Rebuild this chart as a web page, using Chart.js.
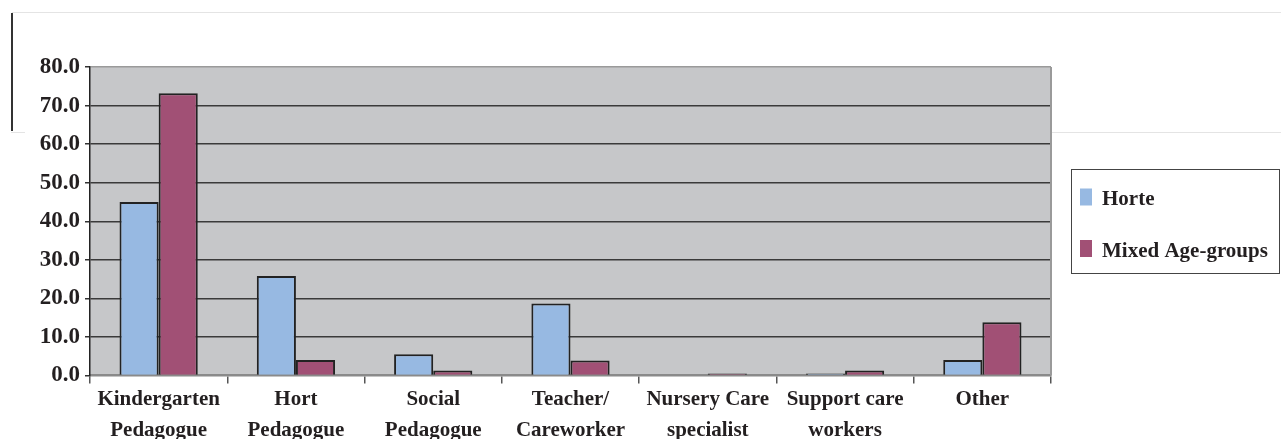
<!DOCTYPE html>
<html>
<head>
<meta charset="utf-8">
<script src="https://cdn.jsdelivr.net/npm/chart.js@4/dist/chart.umd.min.js"></script>
<style>
  html, body { margin: 0; padding: 0; background: #fff; }
  #wrap { position: relative; width: 1281px; height: 439px; overflow: hidden; }
  canvas { position: absolute; left: 0; top: 0; }
  .rule { position: absolute; }
</style>
</head>
<body>
<div id="wrap">
  <canvas id="chart" width="1281" height="439"></canvas>
  <div class="rule" style="left:12px; top:12px; width:1269px; height:1px; background:#e4e4e4;"></div>
  <div class="rule" style="left:11px; top:13px; width:2px; height:118px; background:#333;"></div>
  <div class="rule" style="left:11px; top:132px; width:14px; height:1px; background:#e4e4e4;"></div>
  <div class="rule" style="left:1052px; top:132px; width:229px; height:1px; background:#e4e4e4;"></div>
</div>
<script>
// Staff qualification shares (%) per group type
const categories = [
  ["Kindergarten", "Pedagogue"],
  ["Hort", "Pedagogue"],
  ["Social", "Pedagogue"],
  ["Teacher/", "Careworker"],
  ["Nursery Care", "specialist"],
  ["Support care", "workers"],
  ["Other"]
];
const seriesNames = ["Horte", "Mixed Age-groups"];
const horteValues = [45.0, 25.8, 5.5, 18.7, 0.0, 0.5, 4.0];
const mixedValues = [73.2, 4.0, 1.3, 3.9, 0.5, 1.3, 13.8];
const yTicks = [0, 10, 20, 30, 40, 50, 60, 70, 80];

const FONT = "'Liberation Serif', 'Times New Roman', serif";
const TEXT = "#231f20";

// Grey plot background and right frame edge
const plotFrame = {
  id: "plotFrame",
  beforeDraw(chart) {
    const { ctx, chartArea: a } = chart;
    ctx.save();
    ctx.fillStyle = "#c6c7c9";
    ctx.fillRect(a.left, a.top, a.right - a.left, a.bottom - a.top);
    ctx.restore();
  },
  afterDraw(chart) {
    const { ctx, chartArea: a } = chart;
    ctx.save();
    ctx.strokeStyle = "#9a9a9a";
    ctx.lineWidth = 2;
    ctx.beginPath();
    ctx.moveTo(a.right, a.top);
    ctx.lineTo(a.right, a.bottom);
    ctx.stroke();
    ctx.restore();
  }
};

// Boxed legend to the right of the plot
const boxLegend = {
  id: "boxLegend",
  afterDraw(chart) {
    const { ctx } = chart;
    const x = 1071.5, y = 169.5, w = 208, h = 104;
    ctx.save();
    ctx.strokeStyle = "#444";
    ctx.lineWidth = 1;
    ctx.strokeRect(x, y, w, h);
    ctx.font = "bold 21px " + FONT;
    ctx.textBaseline = "alphabetic";
    const rows = [205, 256.5];
    chart.data.datasets.forEach((ds, i) => {
      const base = rows[i];
      ctx.fillStyle = ds.backgroundColor;
      ctx.fillRect(1080, base - 16.5, 12, 17);
      ctx.fillStyle = TEXT;
      ctx.fillText(ds.label, 1102, base);
    });
    ctx.restore();
  }
};

new Chart(document.getElementById("chart"), {
  type: "bar",
  data: {
    labels: categories,
    datasets: [
      {
        label: seriesNames[0],
        data: horteValues,
        backgroundColor: "#97b9e2",
        borderColor: "#222",
        borderWidth: 2,
        categoryPercentage: 0.57,
        barPercentage: 1.0
      },
      {
        label: seriesNames[1],
        data: mixedValues,
        backgroundColor: "#a15075",
        borderColor: "#222",
        borderWidth: 2,
        categoryPercentage: 0.57,
        barPercentage: 1.0
      }
    ]
  },
  options: {
    responsive: false,
    animation: false,
    devicePixelRatio: 1,
    layout: { padding: { top: 67, right: 230, left: 0, bottom: 0 } },
    plugins: {
      legend: { display: false },
      tooltip: { enabled: false }
    },
    scales: {
      x: {
        afterFit(scale) { scale.height = 63.5; },
        grid: {
          drawOnChartArea: false,
          drawTicks: true,
          tickLength: 8,
          color: "#555",
          lineWidth: 1.5,
          offset: true
        },
        border: { color: "#8a8a8a", width: 2.5 },
        ticks: {
          color: TEXT,
          padding: 1,
          maxRotation: 0,
          autoSkip: false,
          font: { family: FONT, size: 21, weight: "bold", lineHeight: 1.45 }
        }
      },
      y: {
        min: 0,
        max: 80,
        afterFit(scale) { scale.width = 90; },
        afterBuildTicks(scale) { scale.ticks = yTicks.map(v => ({ value: v })); },
        grid: {
          drawTicks: true,
          tickLength: 5,
          lineWidth: 1.5,
          color(ctx) {
            const v = ctx.tick && ctx.tick.value;
            if (v === 80) return "#9a9a9a";
            if (v === 0) return "rgba(0,0,0,0)";
            return "#3a3a3a";
          },
          tickColor: "#333"
        },
        border: { color: "#222", width: 1.5 },
        ticks: {
          color: TEXT,
          padding: 5,
          callback: v => Number(v).toFixed(1),
          font: { family: FONT, size: 23, weight: "bold" }
        }
      }
    }
  },
  plugins: [plotFrame, boxLegend]
});
</script>
</body>
</html>
